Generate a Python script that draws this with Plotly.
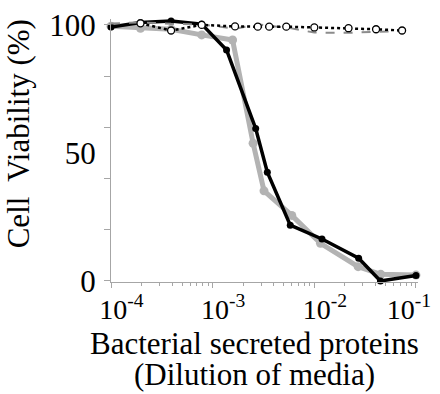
import plotly.graph_objects as go

# ---- data ----
black_x = [1.0e-4, 1.95e-4, 3.9e-4, 7.8e-4, 1.37e-3, 2.65e-3, 3.45e-3, 5.8e-3, 1.19e-2, 2.73e-2, 4.47e-2, 1.0e-1]
black_y = [99.2, 100.9, 101.5, 100.3, 90.2, 59.5, 42.5, 21.8, 16.4, 8.9, 0.0, 2.1]

gray_x = [1.0e-4, 1.95e-4, 3.9e-4, 7.8e-4, 1.57e-3, 2.5e-3, 3.2e-3, 6.0e-3, 1.15e-2, 2.7e-2, 4.5e-2, 1.0e-1]
gray_y = [99.5, 98.7, 98.3, 96.1, 94.1, 53.8, 35.2, 25.6, 14.7, 5.6, 2.6, 2.3]

dotted_x = [1.95e-4, 3.9e-4, 7.8e-4, 1.66e-3, 2.78e-3, 3.6e-3, 5.3e-3, 1.0e-2, 2.17e-2, 4.05e-2, 7.3e-2]
dotted_y = [100.6, 97.8, 100.0, 99.4, 99.3, 99.3, 99.3, 99.0, 98.7, 98.3, 97.8]

dashed_x = [1.0e-4, 1.95e-4, 3.9e-4, 7.8e-4, 1.66e-3, 2.78e-3, 3.6e-3, 5.3e-3, 1.0e-2, 2.17e-2, 4.05e-2, 7.3e-2]
dashed_y = [100.5, 101.0, 100.4, 100.2, 98.5, 100.2, 99.6, 99.0, 97.0, 96.9, 97.3, 97.6]

x_tick_vals = [1e-4, 1e-3, 1e-2, 1e-1]
x_tick_text = ["&nbsp;&nbsp;&nbsp;10<sup>-4</sup>", "&nbsp;&nbsp;&nbsp;10<sup>-3</sup>",
               "&nbsp;&nbsp;&nbsp;10<sup>-2</sup>", "10<sup>-1</sup>&nbsp;&nbsp;"]
x_minor_vals = [m * 10.0 ** e for e in (-4, -3, -2) for m in range(2, 10)]
y_tick_vals = [0, 50, 100]
y_minor_vals = [0, 20, 40, 60, 80, 100]

FONT = "Liberation Serif"
GRAY = "#b3b3b3"
AXIS = "#a6a6a6"

fig = go.Figure()
fig.add_trace(go.Scatter(x=gray_x, y=gray_y, mode="lines+markers",
                         line=dict(color=GRAY, width=5),
                         marker=dict(color=GRAY, size=9), cliponaxis=False))
fig.add_trace(go.Scatter(x=black_x, y=black_y, mode="lines+markers",
                         line=dict(color="black", width=3.5),
                         marker=dict(color="black", size=7), cliponaxis=False))
fig.add_trace(go.Scatter(x=dashed_x, y=dashed_y, mode="lines",
                         line=dict(color="#8c8c8c", width=2, dash="dash"),
                         cliponaxis=False))
fig.add_trace(go.Scatter(x=dotted_x, y=dotted_y, mode="lines+markers",
                         line=dict(color="black", width=2.5, dash="dot"),
                         marker=dict(color="white", size=7, line=dict(color="black", width=1.3)),
                         cliponaxis=False))

fig.update_layout(
    width=440, height=394,
    margin=dict(l=111, r=22, t=19, b=112),
    paper_bgcolor="white", plot_bgcolor="white",
    showlegend=False,
    font=dict(family=FONT, size=31, color="black"),
    xaxis=dict(type="log", range=[-4, -0.98], automargin=False,
               tickmode="array", tickvals=x_tick_vals, ticktext=x_tick_text,
               ticks="outside", ticklen=5, tickcolor=AXIS, tickwidth=1,
               minor=dict(tickvals=x_minor_vals, ticks="outside", ticklen=3, tickcolor=AXIS),
               showline=True, linecolor=AXIS, linewidth=1,
               showgrid=False, zeroline=False,
               ticklabeloverflow="allow", ticklabelstandoff=-3,
               tickfont=dict(family=FONT, size=28, color="black")),
    yaxis=dict(range=[-0.4, 102.3], automargin=False,
               tickmode="array", tickvals=y_tick_vals, ticks="",
               minor=dict(tickvals=y_minor_vals, ticks="outside", ticklen=6, tickcolor=AXIS),
               showline=True, linecolor=AXIS, linewidth=1,
               showgrid=False, zeroline=False,
               tickfont=dict(family=FONT, size=31, color="black"),
               ticklabelstandoff=8),
)

fig.add_annotation(text="Cell  Viability (%)", textangle=-90,
                   xref="paper", yref="paper", x=-0.3, y=0.565,
                   xanchor="center", yanchor="middle", showarrow=False,
                   font=dict(family=FONT, size=31, color="black"))
fig.add_annotation(text="Bacterial secreted proteins",
                   xref="paper", yref="paper", x=0.466, y=-0.232,
                   xanchor="center", yanchor="middle", showarrow=False,
                   font=dict(family=FONT, size=31, color="black"))
fig.add_annotation(text="(Dilution of media)",
                   xref="paper", yref="paper", x=0.466, y=-0.35,
                   xanchor="center", yanchor="middle", showarrow=False,
                   font=dict(family=FONT, size=31, color="black"))

fig.write_html("out.html")
